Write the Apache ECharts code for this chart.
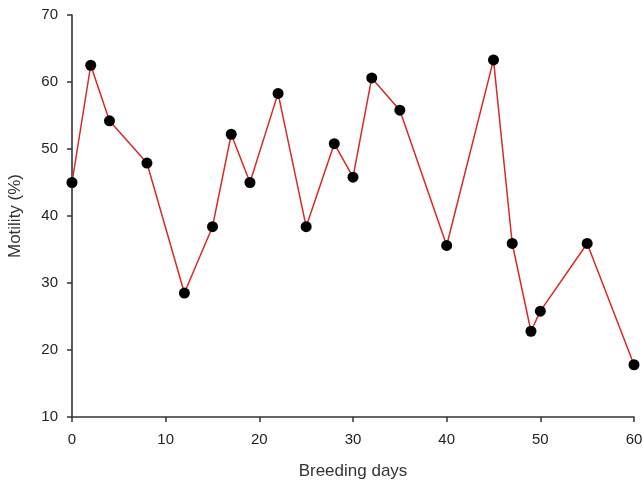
<!DOCTYPE html>
<html>
<head>
<meta charset="utf-8">
<script src="https://cdn.jsdelivr.net/npm/echarts@6/dist/echarts.min.js"></script>
<style>html,body{margin:0;padding:0;background:#fff}#c{width:643px;height:486px}</style>
</head>
<body>
<div id="c"></div>
<script>
var days = [0, 2, 4, 8, 12, 15, 17, 19, 22, 25, 28, 30, 32, 35, 40, 45, 47, 49, 50, 55, 60];
var motility = [45.0, 62.5, 54.2, 47.9, 28.5, 38.4, 52.2, 45.0, 58.3, 38.4, 50.8, 45.8, 60.6, 55.8, 35.6, 63.3, 35.9, 22.8, 25.8, 35.9, 17.8];
var xTicks = [0, 10, 20, 30, 40, 50, 60];
var yTicks = [10, 20, 30, 40, 50, 60, 70];

var chart = echarts.init(document.getElementById('c'));
var font = 'Liberation Sans, Arial, sans-serif';
chart.setOption({
  animation: false,
  grid: { left: 72, right: 9, top: 15, bottom: 69, containLabel: false, outerBoundsMode: 'none' },
  xAxis: {
    type: 'value', min: xTicks[0], max: xTicks[xTicks.length-1], interval: 10,
    name: 'Breeding days', nameLocation: 'middle', nameGap: 46,
    nameTextStyle: { fontFamily: font, fontSize: 17, color: '#333' },
    axisLine: { lineStyle: { color: '#333', width: 1.6 } },
    axisTick: { show: true, length: 5, lineStyle: { color: '#333', width: 1.5 } },
    axisLabel: { fontFamily: font, fontSize: 15, color: '#222', margin: 15 },
    splitLine: { show: false }
  },
  yAxis: {
    type: 'value', min: yTicks[0], max: yTicks[yTicks.length-1], interval: 10,
    name: 'Motility (%)', nameLocation: 'middle', nameGap: 48, nameRotate: 90,
    nameTextStyle: { fontFamily: font, fontSize: 17, color: '#333' },
    axisLine: { show: true, lineStyle: { color: '#333', width: 1.6 } },
    axisTick: { show: true, length: 5, lineStyle: { color: '#333', width: 1.5 } },
    axisLabel: { fontFamily: font, fontSize: 15, color: '#222', margin: 14 },
    splitLine: { show: false }
  },
  series: [{
    type: 'line',
    data: days.map(function(d, i){ return [d, motility[i]]; }),
    symbol: 'circle', symbolSize: 11,
    itemStyle: { color: '#000' },
    lineStyle: { color: '#d42a2a', width: 1.5 }
  }]
});
</script>
</body>
</html>
